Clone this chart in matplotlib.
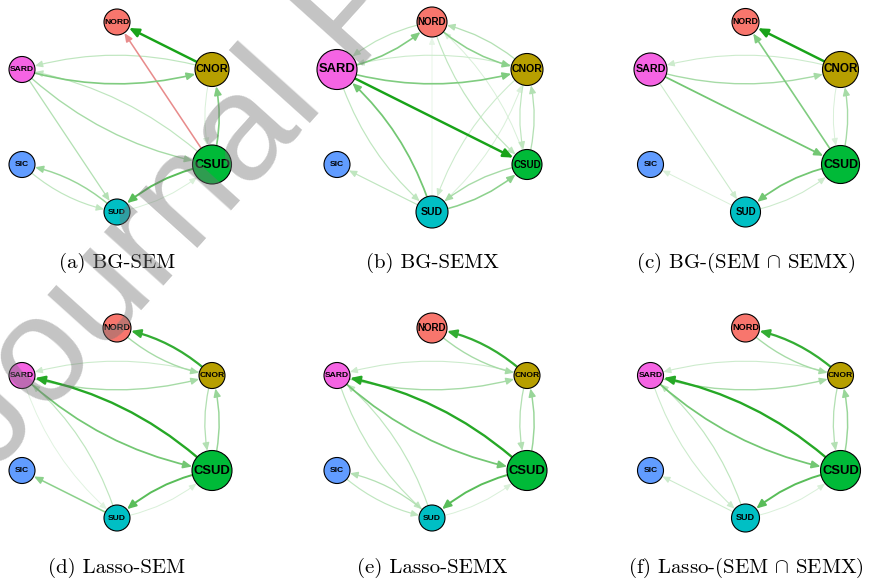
import numpy as np
import matplotlib.pyplot as plt
from matplotlib.patches import Circle, FancyArrowPatch
from matplotlib.colors import to_rgb

plt.rcParams['mathtext.fontset'] = 'cm'

nodes = ["NORD", "CNOR", "CSUD", "SUD", "SIC", "SARD"]
node_colors = ["#F8766D", "#B79F00", "#00BA38", "#00BFC4", "#619CFF", "#F564E3"]

captions = ["(a) BG-SEM", "(b) BG-SEMX", r"(c) BG-(SEM $\cap$ SEMX)",
            "(d) Lasso-SEM", "(e) Lasso-SEMX", r"(f) Lasso-(SEM $\cap$ SEMX)"]

# node sizes per graph, same order as nodes
sizes_a = [13, 17, 19.5, 13, 13, 13]
sizes_b = [15, 16, 15, 16, 13, 20]
sizes_c = [13.5, 18, 19, 15, 13, 16.5]
sizes_d = [14, 13, 20, 13, 13, 13]
sizes_e = [15, 13, 20, 13, 13, 13]
sizes_f = [14, 13, 20, 14, 13, 13]

# directed edges: (from, to, weight)
edges_a = [("CNOR", "NORD", 0.9), ("CSUD", "NORD", -0.45),
           ("CNOR", "SARD", 0.25), ("SARD", "CNOR", 0.5),
           ("SARD", "CSUD", 0.35), ("CSUD", "SARD", 0.25),
           ("SARD", "SUD", 0.3),
           ("CSUD", "CNOR", 0.5), ("CNOR", "CSUD", 0.15),
           ("CSUD", "SUD", 0.65), ("SUD", "CSUD", 0.15),
           ("SUD", "SIC", 0.4), ("SIC", "SUD", 0.25)]
edges_b = [("NORD", "SARD", 0.25), ("SARD", "NORD", 0.5),
           ("CNOR", "SARD", 0.2), ("SARD", "CNOR", 0.5),
           ("NORD", "CNOR", 0.45), ("CNOR", "NORD", 0.3),
           ("NORD", "CSUD", 0.25), ("CSUD", "NORD", 0.15),
           ("SUD", "NORD", 0.1),
           ("SARD", "CSUD", 0.9),
           ("SUD", "SARD", 0.55), ("SARD", "SUD", 0.25),
           ("CNOR", "SUD", 0.2), ("SUD", "CNOR", 0.15),
           ("CSUD", "CNOR", 0.3), ("CNOR", "CSUD", 0.25),
           ("CSUD", "SUD", 0.35), ("SUD", "CSUD", 0.45),
           ("SUD", "SIC", 0.25)]
edges_c = [("CNOR", "NORD", 0.9), ("CSUD", "NORD", 0.5),
           ("CNOR", "SARD", 0.2), ("SARD", "CNOR", 0.35),
           ("SARD", "CSUD", 0.55), ("SARD", "SUD", 0.2),
           ("CNOR", "CSUD", 0.15), ("CSUD", "CNOR", 0.35),
           ("CSUD", "SUD", 0.55), ("SUD", "CSUD", 0.2),
           ("SUD", "SIC", 0.15)]
edges_d = [("CNOR", "NORD", 0.8), ("NORD", "CNOR", 0.35),
           ("CNOR", "SARD", 0.2), ("SARD", "CNOR", 0.35),
           ("CSUD", "SARD", 0.85), ("SARD", "CSUD", 0.55),
           ("SARD", "SUD", 0.12), ("SUD", "SARD", 0.25),
           ("CNOR", "CSUD", 0.3), ("CSUD", "CNOR", 0.4),
           ("CSUD", "SUD", 0.65), ("SUD", "CSUD", 0.15),
           ("SUD", "SIC", 0.45)]
edges_e = [("CNOR", "NORD", 0.8), ("NORD", "CNOR", 0.35),
           ("CNOR", "SARD", 0.2), ("SARD", "CNOR", 0.35),
           ("CSUD", "SARD", 0.85), ("SARD", "CSUD", 0.55),
           ("SARD", "SUD", 0.25), ("SUD", "SARD", 0.25),
           ("CNOR", "CSUD", 0.3), ("CSUD", "CNOR", 0.4),
           ("CSUD", "SUD", 0.65), ("SUD", "CSUD", 0.15),
           ("SUD", "SIC", 0.3), ("SIC", "SUD", 0.25)]
edges_f = [("CNOR", "NORD", 0.8), ("NORD", "CNOR", 0.35),
           ("CNOR", "SARD", 0.2), ("SARD", "CNOR", 0.35),
           ("CSUD", "SARD", 0.85), ("SARD", "CSUD", 0.55),
           ("SARD", "SUD", 0.2), ("SUD", "SARD", 0.25),
           ("CNOR", "CSUD", 0.3), ("CSUD", "CNOR", 0.4),
           ("CSUD", "SUD", 0.65), ("SUD", "CSUD", 0.15),
           ("SUD", "SIC", 0.2)]

all_sizes = [sizes_a, sizes_b, sizes_c, sizes_d, sizes_e, sizes_f]
all_edges = [edges_a, edges_b, edges_c, edges_d, edges_e, edges_f]

W, H = 877, 581
PX = 95.0          # pixels per layout unit
pos_col = to_rgb("#009900")
neg_col = to_rgb("#CC0000")


def fade(rgb, a):
    return tuple(1 - a * (1 - c) for c in rgb)


def draw_net(ax, edges, sizes):
    # circle layout stretched to fill the box
    th = np.radians(90 - 60 * np.arange(len(nodes)))
    xs = np.cos(th) / np.cos(np.radians(30))
    ys = np.sin(th)
    circ = {}
    xy = {}
    for name, x, y, s, c in zip(nodes, xs, ys, sizes, node_colors):
        p = Circle((x, y), s / PX, fc=c, ec="black", lw=0.8, zorder=3)
        ax.add_patch(p)
        circ[name] = p
        xy[name] = (x, y)
        ax.text(x, y, name, ha="center", va="center", fontsize=0.47 * s,
                fontweight="bold", family="Liberation Sans", zorder=4)
    pairs = {(a, b) for a, b, w in edges}
    for a, b, w in sorted(edges, key=lambda e: abs(e[2])):
        rad = 0.15 if (b, a) in pairs else 0.0
        col = fade(pos_col if w > 0 else neg_col, abs(w))
        arr = FancyArrowPatch(xy[a], xy[b], patchA=circ[a], patchB=circ[b],
                              shrinkA=0, shrinkB=0,
                              connectionstyle=f"arc3,rad={rad}",
                              arrowstyle="-|>,head_length=0.5,head_width=0.22",
                              mutation_scale=8 + 4 * abs(w),
                              lw=0.5 + 1.4 * abs(w), color=col, zorder=2)
        ax.add_patch(arr)


fig = plt.figure(figsize=(W / 100, H / 100), dpi=100)

col_cx = [117, 432, 745.5]
row_cy = [117, 423]
cap_y = [263, 568]
half = 1.25

for i in range(6):
    r, c = divmod(i, 3)
    cx, cy = col_cx[c], row_cy[r]
    hp = half * PX
    ax = fig.add_axes([(cx - hp) / W, 1 - (cy + hp) / H, 2 * hp / W, 2 * hp / H])
    ax.set_xlim(-half, half)
    ax.set_ylim(-half, half)
    ax.axis("off")
    draw_net(ax, all_edges[i], all_sizes[i])
    fig.text(cx / W, 1 - cap_y[r] / H, captions[i], ha="center", va="center",
             fontsize=15, family="cmr10")

# diagonal watermark
fig.text(-6 / W, 1 - 474 / H, "Journal Pre-proof", rotation=48,
         rotation_mode="anchor", ha="left", va="baseline", fontsize=109,
         color="0.45", alpha=0.42, family="Liberation Sans", zorder=20)

fig.savefig("out.png", dpi=100)
